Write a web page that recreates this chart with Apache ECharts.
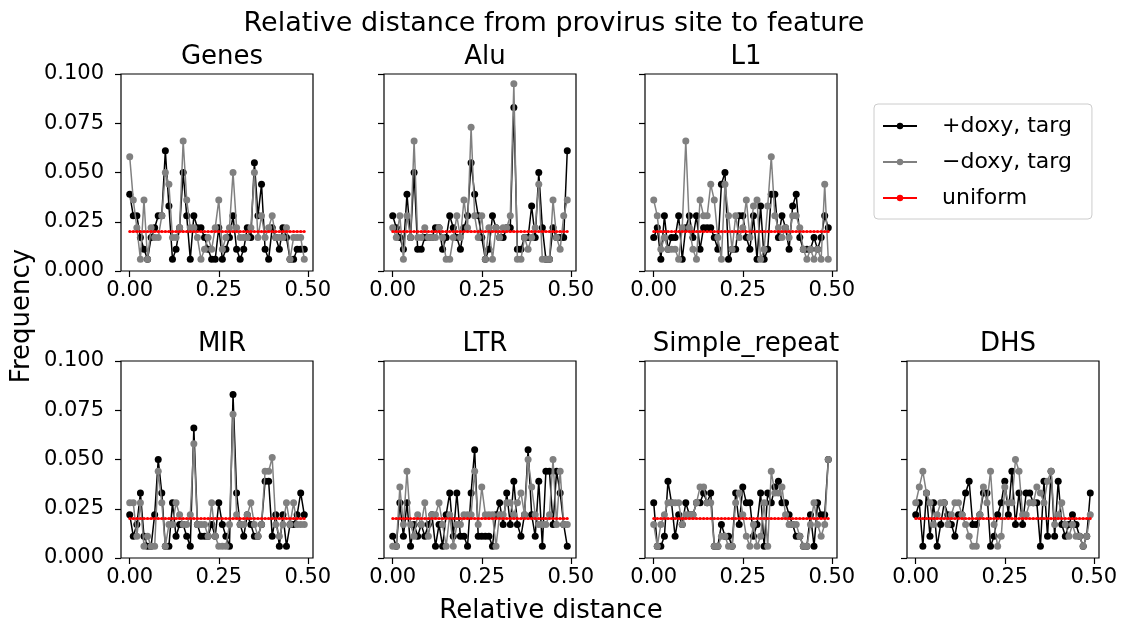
<!DOCTYPE html>
<html>
<head>
<meta charset="utf-8">
<script src="https://cdn.jsdelivr.net/npm/echarts@6/dist/echarts.min.js"></script>
<style>
  html, body { margin: 0; padding: 0; background: #fff; }
  #main { width: 1124px; height: 626px; }
</style>
</head>
<body>
<div id="main"></div>
<script>
// relative distance bins (x values shared by every panel)
const xs = [0.00, 0.01, 0.02, 0.03, 0.04, 0.05, 0.06, 0.07, 0.08, 0.09,
            0.10, 0.11, 0.12, 0.13, 0.14, 0.15, 0.16, 0.17, 0.18, 0.19,
            0.20, 0.21, 0.22, 0.23, 0.24, 0.25, 0.26, 0.27, 0.28, 0.29,
            0.30, 0.31, 0.32, 0.33, 0.34, 0.35, 0.36, 0.37, 0.38, 0.39,
            0.40, 0.41, 0.42, 0.43, 0.44, 0.45, 0.46, 0.47, 0.48, 0.49];

const uniform = [0.02, 0.02, 0.02, 0.02, 0.02, 0.02, 0.02, 0.02, 0.02, 0.02,
                 0.02, 0.02, 0.02, 0.02, 0.02, 0.02, 0.02, 0.02, 0.02, 0.02,
                 0.02, 0.02, 0.02, 0.02, 0.02, 0.02, 0.02, 0.02, 0.02, 0.02,
                 0.02, 0.02, 0.02, 0.02, 0.02, 0.02, 0.02, 0.02, 0.02, 0.02,
                 0.02, 0.02, 0.02, 0.02, 0.02, 0.02, 0.02, 0.02, 0.02, 0.02];

const panelNames = ['Genes', 'Alu', 'L1', 'MIR', 'LTR', 'Simple_repeat', 'DHS'];
const xTicks = [0, 0.25, 0.5];

// +doxy, targ (black) / -doxy, targ (gray)
const genesPlus = [0.039, 0.028, 0.028, 0.017, 0.011, 0.006, 0.017, 0.022, 0.028, 0.028,
                   0.061, 0.033, 0.006, 0.011, 0.022, 0.050, 0.028, 0.006, 0.028, 0.022,
                   0.022, 0.017, 0.011, 0.006, 0.006, 0.022, 0.006, 0.011, 0.017, 0.028,
                   0.011, 0.006, 0.011, 0.022, 0.017, 0.055, 0.028, 0.044, 0.011, 0.006,
                   0.022, 0.017, 0.011, 0.022, 0.017, 0.006, 0.006, 0.011, 0.011, 0.011];
const genesMinus = [0.058, 0.036, 0.022, 0.006, 0.036, 0.006, 0.022, 0.017, 0.017, 0.028,
                    0.050, 0.044, 0.017, 0.017, 0.022, 0.066, 0.036, 0.022, 0.022, 0.017,
                    0.006, 0.011, 0.017, 0.011, 0.022, 0.036, 0.011, 0.017, 0.022, 0.050,
                    0.022, 0.017, 0.017, 0.017, 0.022, 0.050, 0.017, 0.028, 0.017, 0.022,
                    0.028, 0.017, 0.017, 0.017, 0.022, 0.006, 0.017, 0.017, 0.017, 0.006];

const aluPlus = [0.028, 0.022, 0.017, 0.011, 0.039, 0.017, 0.050, 0.011, 0.011, 0.017,
                 0.017, 0.017, 0.022, 0.022, 0.011, 0.017, 0.028, 0.022, 0.017, 0.011,
                 0.022, 0.028, 0.055, 0.039, 0.028, 0.017, 0.006, 0.011, 0.028, 0.022,
                 0.017, 0.017, 0.022, 0.022, 0.083, 0.011, 0.011, 0.017, 0.017, 0.033,
                 0.017, 0.050, 0.022, 0.006, 0.006, 0.022, 0.017, 0.017, 0.017, 0.061];
const aluMinus = [0.022, 0.017, 0.028, 0.006, 0.028, 0.017, 0.066, 0.017, 0.017, 0.022,
                  0.017, 0.017, 0.017, 0.022, 0.017, 0.006, 0.006, 0.017, 0.028, 0.017,
                  0.036, 0.022, 0.073, 0.028, 0.017, 0.028, 0.006, 0.022, 0.006, 0.022,
                  0.017, 0.022, 0.022, 0.028, 0.095, 0.006, 0.006, 0.017, 0.011, 0.017,
                  0.022, 0.044, 0.006, 0.006, 0.006, 0.036, 0.017, 0.011, 0.028, 0.036];

const l1Plus = [0.017, 0.022, 0.006, 0.028, 0.011, 0.017, 0.017, 0.028, 0.006, 0.022,
                0.028, 0.017, 0.028, 0.011, 0.022, 0.022, 0.022, 0.017, 0.011, 0.044,
                0.050, 0.006, 0.011, 0.011, 0.028, 0.028, 0.017, 0.011, 0.028, 0.006,
                0.033, 0.006, 0.011, 0.039, 0.039, 0.017, 0.028, 0.022, 0.011, 0.033,
                0.039, 0.017, 0.011, 0.011, 0.011, 0.017, 0.011, 0.017, 0.028, 0.022];
const l1Minus = [0.036, 0.028, 0.011, 0.017, 0.011, 0.011, 0.011, 0.006, 0.022, 0.066,
                 0.022, 0.011, 0.006, 0.036, 0.028, 0.028, 0.044, 0.036, 0.017, 0.006,
                 0.044, 0.028, 0.011, 0.028, 0.017, 0.022, 0.036, 0.017, 0.033, 0.036,
                 0.006, 0.011, 0.033, 0.058, 0.028, 0.022, 0.017, 0.022, 0.017, 0.028,
                 0.028, 0.022, 0.011, 0.006, 0.011, 0.006, 0.011, 0.006, 0.044, 0.006];

const mirPlus = [0.022, 0.011, 0.017, 0.033, 0.011, 0.006, 0.006, 0.022, 0.050, 0.033,
                 0.006, 0.006, 0.028, 0.011, 0.017, 0.017, 0.011, 0.006, 0.066, 0.017,
                 0.011, 0.011, 0.011, 0.017, 0.011, 0.028, 0.017, 0.011, 0.006, 0.083,
                 0.033, 0.017, 0.011, 0.022, 0.017, 0.011, 0.011, 0.017, 0.039, 0.039,
                 0.011, 0.022, 0.006, 0.022, 0.006, 0.017, 0.017, 0.022, 0.033, 0.022];
const mirMinus = [0.028, 0.028, 0.011, 0.028, 0.006, 0.011, 0.006, 0.006, 0.044, 0.028,
                  0.006, 0.017, 0.017, 0.028, 0.022, 0.017, 0.017, 0.022, 0.058, 0.017,
                  0.017, 0.017, 0.011, 0.028, 0.011, 0.006, 0.006, 0.006, 0.017, 0.073,
                  0.022, 0.017, 0.017, 0.022, 0.028, 0.017, 0.011, 0.017, 0.044, 0.044,
                  0.051, 0.017, 0.011, 0.017, 0.028, 0.017, 0.028, 0.017, 0.017, 0.017];

const ltrPlus = [0.011, 0.006, 0.028, 0.011, 0.028, 0.006, 0.017, 0.011, 0.017, 0.011,
                 0.017, 0.022, 0.006, 0.017, 0.006, 0.022, 0.033, 0.011, 0.033, 0.011,
                 0.011, 0.006, 0.033, 0.055, 0.011, 0.011, 0.011, 0.011, 0.006, 0.022,
                 0.028, 0.017, 0.033, 0.017, 0.039, 0.017, 0.011, 0.022, 0.055, 0.022,
                 0.011, 0.039, 0.006, 0.044, 0.044, 0.017, 0.044, 0.033, 0.017, 0.006];
const ltrMinus = [0.006, 0.006, 0.036, 0.017, 0.044, 0.017, 0.011, 0.022, 0.017, 0.028,
                  0.011, 0.022, 0.022, 0.028, 0.017, 0.006, 0.022, 0.006, 0.017, 0.017,
                  0.022, 0.022, 0.022, 0.044, 0.017, 0.036, 0.022, 0.022, 0.022, 0.006,
                  0.022, 0.022, 0.028, 0.028, 0.022, 0.028, 0.033, 0.022, 0.050, 0.036,
                  0.022, 0.017, 0.017, 0.017, 0.022, 0.050, 0.017, 0.044, 0.017, 0.017];

const simplePlus = [0.028, 0.006, 0.006, 0.011, 0.039, 0.028, 0.011, 0.022, 0.017, 0.028,
                    0.022, 0.022, 0.028, 0.028, 0.033, 0.028, 0.033, 0.006, 0.006, 0.017,
                    0.011, 0.011, 0.006, 0.033, 0.017, 0.036, 0.028, 0.028, 0.011, 0.017,
                    0.033, 0.006, 0.033, 0.028, 0.036, 0.039, 0.028, 0.028, 0.022, 0.017,
                    0.011, 0.011, 0.006, 0.006, 0.022, 0.006, 0.028, 0.022, 0.022, 0.050];
const simpleMinus = [0.017, 0.006, 0.017, 0.022, 0.028, 0.028, 0.028, 0.028, 0.017, 0.022,
                     0.022, 0.022, 0.028, 0.036, 0.036, 0.028, 0.028, 0.006, 0.006, 0.011,
                     0.011, 0.006, 0.006, 0.028, 0.033, 0.022, 0.011, 0.006, 0.017, 0.006,
                     0.011, 0.028, 0.006, 0.044, 0.033, 0.033, 0.036, 0.022, 0.017, 0.017,
                     0.017, 0.011, 0.006, 0.006, 0.017, 0.028, 0.017, 0.011, 0.017, 0.050];

const dhsPlus = [0.022, 0.028, 0.006, 0.033, 0.011, 0.028, 0.006, 0.017, 0.028, 0.022,
                 0.017, 0.011, 0.022, 0.022, 0.033, 0.039, 0.017, 0.017, 0.022, 0.033,
                 0.033, 0.006, 0.011, 0.022, 0.028, 0.039, 0.022, 0.044, 0.017, 0.033,
                 0.017, 0.033, 0.033, 0.028, 0.028, 0.006, 0.039, 0.011, 0.044, 0.011,
                 0.039, 0.017, 0.011, 0.017, 0.022, 0.017, 0.011, 0.006, 0.011, 0.033];
const dhsMinus = [0.028, 0.036, 0.044, 0.033, 0.028, 0.017, 0.022, 0.028, 0.028, 0.017,
                  0.022, 0.028, 0.028, 0.022, 0.017, 0.011, 0.006, 0.006, 0.022, 0.036,
                  0.028, 0.044, 0.017, 0.006, 0.011, 0.036, 0.028, 0.028, 0.050, 0.044,
                  0.022, 0.022, 0.028, 0.028, 0.036, 0.033, 0.028, 0.039, 0.044, 0.017,
                  0.022, 0.028, 0.017, 0.011, 0.017, 0.011, 0.011, 0.006, 0.011, 0.022];

const plusSets = [genesPlus, aluPlus, l1Plus, mirPlus, ltrPlus, simplePlus, dhsPlus];
const minusSets = [genesMinus, aluMinus, l1Minus, mirMinus, ltrMinus, simpleMinus, dhsMinus];

// panel boxes (left, top) in px
const boxes = [[121, 74], [384, 74], [645, 74], [121, 361], [384, 361], [645, 361], [907, 361]];
const boxW = 192, boxH = 197;
const FONT = 'DejaVu Sans';

function pairs(vals) {
    return vals.map(function (v, i) { return [xs[i], v]; });
}

var grids = [], xAxes = [], yAxes = [], series = [], titles = [];

titles.push({
    text: 'Relative distance from provirus site to feature',
    left: 549, top: 5, textAlign: 'center',
    textStyle: { fontFamily: FONT, fontSize: 27, fontWeight: 'normal', color: '#000' }
});

panelNames.forEach(function (name, k) {
    var b = boxes[k];
    grids.push({
        left: b[0], top: b[1], width: boxW, height: boxH,
        show: true, borderColor: '#000', borderWidth: 1.2, backgroundColor: '#fff'
    });
    titles.push({
        text: name,
        left: b[0] + boxW / 2, top: b[1] - 35, textAlign: 'center',
        textStyle: { fontFamily: FONT, fontSize: 26, fontWeight: 'normal', color: '#000' }
    });
    xAxes.push({
        type: 'value', gridIndex: k, position: 'bottom',
        min: -0.0245, max: 0.5145,
        axisLine: { show: false, onZero: false },
        splitLine: { show: false },
        axisTick: { show: true, inside: false, customValues: xTicks, length: 6, lineStyle: { color: '#000', width: 1.2 } },
        axisLabel: {
            customValues: xTicks, margin: 9,
            fontFamily: FONT, fontSize: 21, color: '#000',
            formatter: function (v) { return v.toFixed(2); }
        }
    });
    yAxes.push({
        type: 'value', gridIndex: k, position: 'left',
        min: 0, max: 0.1, interval: 0.025,
        axisLine: { show: false, onZero: false },
        splitLine: { show: false },
        axisTick: { show: true, inside: false, length: 6, lineStyle: { color: '#000', width: 1.2 } },
        axisLabel: {
            show: b[0] === 121, margin: 17,
            fontFamily: FONT, fontSize: 21, color: '#000',
            formatter: function (v) { return v.toFixed(3); }
        }
    });
    series.push({
        name: '+doxy, targ', type: 'line', xAxisIndex: k, yAxisIndex: k,
        data: pairs(plusSets[k]),
        symbol: 'circle', symbolSize: 7, showAllSymbol: true,
        lineStyle: { color: '#000', width: 1.5 },
        itemStyle: { color: '#000' },
        animation: false, z: 2
    });
    series.push({
        name: '\u2212doxy, targ', type: 'line', xAxisIndex: k, yAxisIndex: k,
        data: pairs(minusSets[k]),
        symbol: 'circle', symbolSize: 7, showAllSymbol: true,
        lineStyle: { color: '#808080', width: 1.5 },
        itemStyle: { color: '#808080' },
        animation: false, z: 3
    });
    series.push({
        name: 'uniform', type: 'line', xAxisIndex: k, yAxisIndex: k,
        data: pairs(uniform),
        symbol: 'circle', symbolSize: 3, showAllSymbol: true,
        lineStyle: { color: '#ff0000', width: 1.8 },
        itemStyle: { color: '#ff0000' },
        animation: false, z: 4
    });
});

const chart = echarts.init(document.getElementById('main'), null, { renderer: 'canvas' });
chart.setOption({
    animation: false,
    backgroundColor: '#fff',
    title: titles,
    grid: grids,
    xAxis: xAxes,
    yAxis: yAxes,
    legend: {
        data: ['+doxy, targ', '\u2212doxy, targ', 'uniform'],
        orient: 'vertical',
        left: 874, top: 104,
        itemWidth: 34, itemHeight: 8, itemGap: 14,
        padding: [11, 20, 10, 8],
        borderColor: '#ccc', borderWidth: 1, borderRadius: 4,
        textStyle: { fontFamily: FONT, fontSize: 22, color: '#000', padding: [0, 0, 0, 20] }
    },
    graphic: [
        {
            type: 'text', x: 22, y: 316, rotation: Math.PI / 2,
            style: { text: 'Frequency', font: '26px "DejaVu Sans"', fill: '#000', textAlign: 'center', textVerticalAlign: 'middle' }
        },
        {
            type: 'text', x: 551, y: 611,
            style: { text: 'Relative distance', font: '26px "DejaVu Sans"', fill: '#000', textAlign: 'center', textVerticalAlign: 'middle' }
        }
    ],
    series: series
});
</script>
</body>
</html>
